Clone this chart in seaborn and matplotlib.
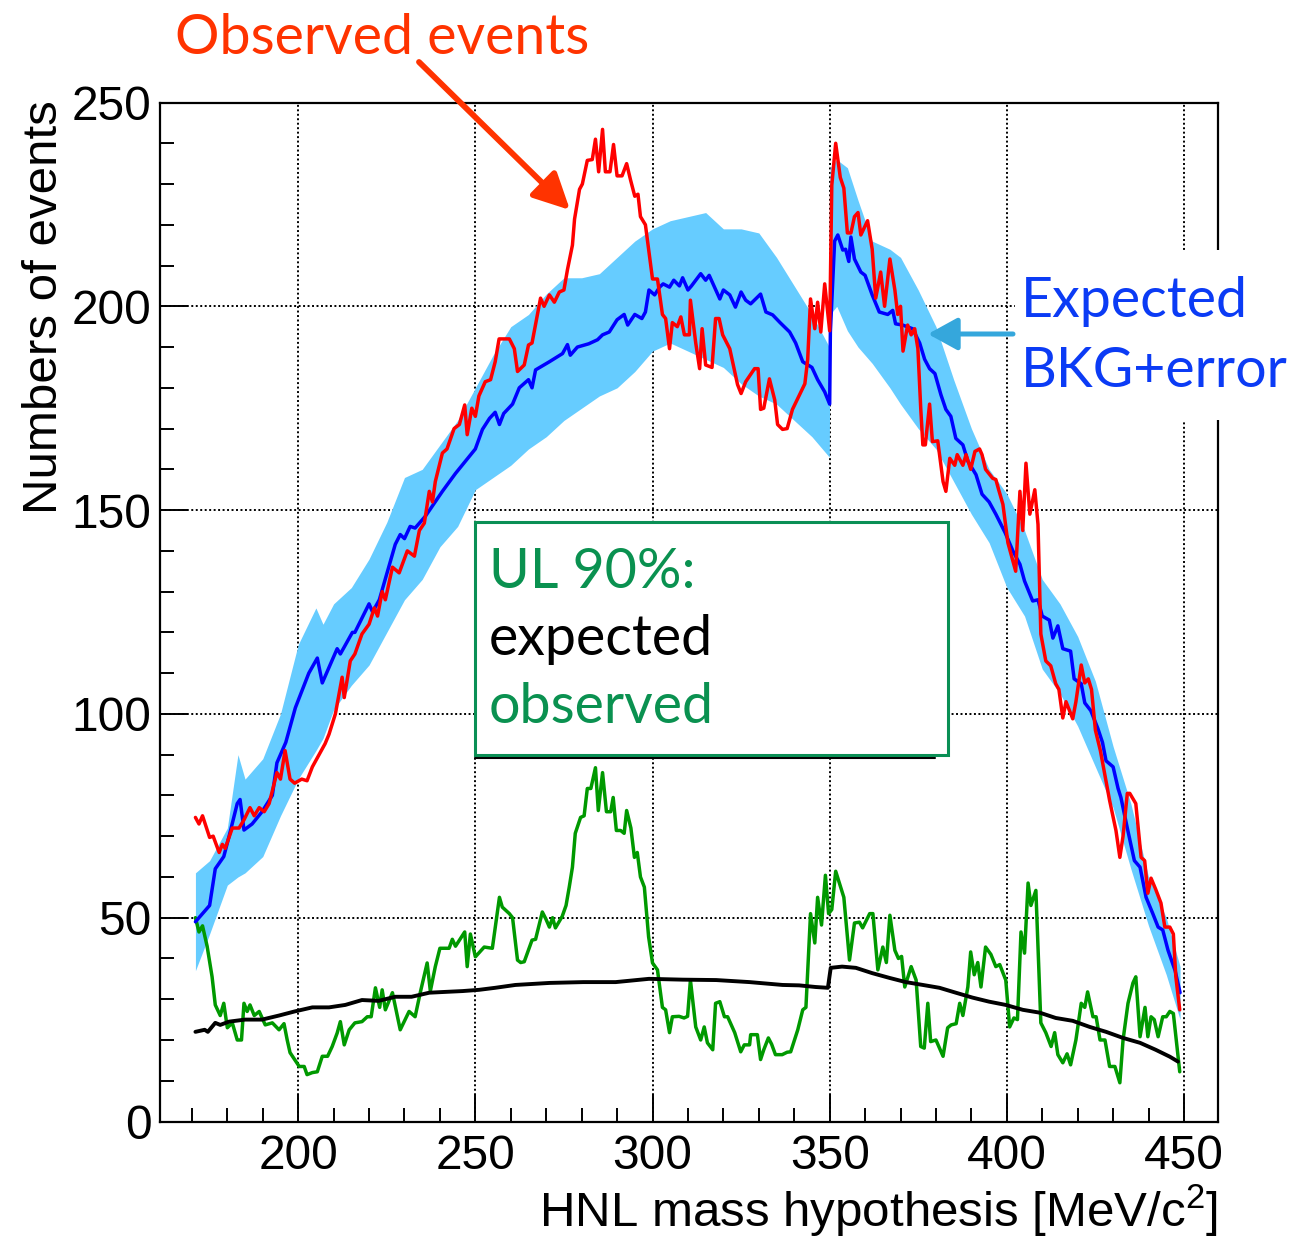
import numpy as np
import pandas as pd
import matplotlib
matplotlib.use('Agg')
import matplotlib.pyplot as plt
import seaborn as sns
from matplotlib.patches import Rectangle, FancyArrowPatch
from matplotlib.lines import Line2D
from matplotlib.ticker import MultipleLocator

# ---- data ----
# expected background (blue)
exp_mass = [171, 175, 176.6, 179, 180.5, 182.8, 183.6, 184.7, 187, 189.8, 192.7, 194, 196.5, 199.2, 203, 205.4, 206.8,
            211, 211.9, 215.3, 216, 220, 221, 222.9, 227.4, 228.8, 230, 231.6, 233, 235.9, 240.7, 244.4, 250, 252, 254,
            255.6, 256.8, 258, 260.5, 262.4, 265, 266, 267, 270.9, 274.6, 276, 276.8, 278.8, 282, 284.5, 285.9, 287.8,
            290, 292, 293, 295, 297, 298, 299, 300.6, 302, 303, 304.8, 306, 307.6, 308.5, 310, 311, 313.6, 315, 316,
            319, 320, 321.8, 323.4, 325, 326.3, 327.7, 330.5, 332, 333.9, 336, 338.7, 340.4, 342.4, 345, 346.6, 348.6,
            350, 350.2, 351.4, 352.3, 353.7, 354.5, 355.4, 356, 357, 358.8, 360, 362, 364, 366.4, 367.8, 368.6, 370.6,
            373.4, 375.4, 376.8, 378.2, 379.7, 381.4, 382.8, 384.2, 385.6, 387.6, 389, 391.3, 393, 395, 396.9, 399.5,
            401.7, 403.7, 405, 407.3, 408.8, 410, 412, 413, 414.4, 415.8, 418, 419, 421, 422, 423.7, 425.7, 427, 428,
            430, 431.4, 432.2, 434, 436, 437.6, 439.3, 441.2, 442.7, 444, 445.5, 447.5, 448.9]
exp_events = [49, 53, 62, 65, 70, 78, 79, 71.5, 73, 76, 80, 88, 93, 101.5, 110, 113.7, 107.6,
              116, 114.7, 120, 120, 127, 125, 128, 141.6, 144, 143, 146, 145.6, 148.5, 154.6, 159, 165, 169.8, 172.5,
              174, 171, 173.7, 176, 180, 182, 180, 184.4, 186.4, 188.4, 190.6, 188, 190, 190.8, 191.8, 193, 193.7,
              196.7, 198, 195.4, 198, 197, 198.6, 204, 202.8, 204.7, 205.5, 204.7, 206.4, 205, 207, 204, 205, 208, 206.4, 207.6,
              201.8, 204, 202.8, 199.8, 203.5, 201.5, 200.6, 203, 198.6, 197.9, 196, 193.7, 191, 186.4, 185, 182, 179,
              176, 193.7, 216, 217.5, 213.8, 214, 211, 217, 211.6, 208.4, 207.6, 202.8, 198.6, 198, 199, 195.7, 195.4,
              194.5, 191, 187, 184.7, 183.5, 178.3, 174.7, 173, 167.6, 166, 162, 158.7, 153.9, 152, 149, 144.5,
              140, 136.7, 132.6, 127.7, 128, 124, 123, 118.6, 121.6, 116, 115.4, 108.6, 107.4, 102.7, 100.8, 96.4, 93, 88.5,
              87, 81.7, 79.5, 72, 64, 62.4, 55, 51, 47.7, 47, 42, 37, 31.6]

# error band around the expectation (light blue)
band_mass = [171, 175, 180, 183, 185, 190, 195, 200, 205, 207, 210, 215, 220, 225, 230, 235, 240, 245, 250, 255,
             260, 265, 270, 275, 280, 285, 290, 295, 300, 305, 310, 315, 320, 325, 330, 335, 340, 345, 349.9,
             350.1, 352, 355, 358, 362, 367, 370, 375, 380, 385, 390, 395, 400, 405, 410, 415, 420, 425, 430,
             435, 440, 445, 448.9]
band_lo = [37, 46, 58, 60, 61, 65, 75, 84, 91, 94, 101, 107, 112, 120, 128, 133, 141, 146, 155, 158,
           161, 165, 168, 172, 175, 178, 180, 184, 189, 191, 189, 187, 185, 181, 178, 176, 172, 168, 163,
           198, 200, 194, 190, 186, 180, 176, 170, 165, 157, 149, 142, 131, 124, 111, 105, 97, 87, 77,
           62, 48, 36, 25]
band_hi = [61, 64, 72, 90, 84, 89, 100, 117, 126, 122, 127, 131, 138, 147, 158, 160, 166, 172, 180, 188,
           195, 198, 203, 207, 207, 208, 212, 216, 219, 221, 222, 223, 219, 219, 218, 212, 205, 198, 190,
           234, 236, 234, 226, 216, 214, 212, 204, 195, 182, 170, 160, 154, 145, 133, 127, 119, 108, 92,
           78, 60, 50, 38]

# observed events (red)
obs_mass = [171, 172, 173, 175, 176, 177.7, 178.6, 179.4, 181.4, 183.3, 184.7, 186.4, 187.6, 189, 190.4, 191.8, 194,
            195, 196.3, 197.7, 199, 201, 202.5, 204, 207.6, 208.7, 210.5, 212.4, 213, 214.7, 216, 218, 220, 221.5,
            222.4, 223.7, 224.6, 226.6, 228.5, 230.8, 232.8, 234.2, 235.6, 237, 237.9, 238.7, 240.7, 242, 244, 245.5,
            247, 247.7, 249, 250, 251, 252.8, 254.3, 255.6, 256.7, 259.6, 261, 261.9, 263.8, 265, 266, 268.4, 269.4,
            270.9, 272.3, 273.7, 275, 276, 277.4, 278, 278.8, 279.4, 280.2, 281.6, 283, 283.9, 284.8, 285.9, 286.7,
            288, 289, 290, 291.4, 292.7, 293.8, 295, 295.9, 296.6, 298, 300, 301.4, 302.8, 303.7, 304.8, 305.6, 307,
            308, 309, 310.4, 310.7, 312.2, 313.3, 314, 315, 316.8, 317.8, 318.8, 319.8, 321.8, 324, 325, 326.3,
            328.8, 329.8, 330.5, 331.4, 333, 334.5, 335.3, 336.7, 338, 339.5, 341.5, 343, 343.8, 344.6, 345.8, 346.6,
            347.5, 348.6, 350, 350.6, 351.7, 353, 354, 355, 356, 357, 358, 358.8, 360.7, 362, 363, 364.4, 365.5, 367,
            368.4, 369.2, 370, 370.7, 372, 373, 374, 374.9, 375.7, 376.3, 377, 378.2, 379, 380.5, 382, 382.8, 383.9,
            385.3, 386, 387.6, 388.5, 389.8, 391, 392.3, 393, 394, 396, 396.9, 397.7, 398.9, 400.3, 401.7, 402.5,
            403.7, 404.5, 405.4, 406.5, 407.9, 408.8, 409.6, 411, 412.4, 413.8, 414.7, 415.8, 416.7, 417.6, 418.6,
            419.5, 421, 422, 423, 423.9, 425, 426.4, 429, 430.8, 431.9, 432.8, 434, 434.7, 436.4, 437.9, 438.9,
            439.8, 440.7, 442, 443.5, 444.6, 446, 447, 447.7, 448.8]
obs_events = [74.6, 73, 75, 69.7, 70, 66, 68, 67, 72, 72, 74, 77, 75, 77, 76, 78, 85.6,
              84, 91, 84, 83, 84, 83.6, 87, 92.7, 95, 100, 109, 104, 113, 114.7, 119.6, 122, 126,
              124, 130, 128, 136, 134.6, 140, 138.7, 145, 146.8, 154.6, 152, 157, 164, 165, 170, 171,
              175.8, 168.5, 175, 173, 178, 181.5, 182, 186.4, 192, 192, 189.6, 184, 185.6, 190.5, 191, 202, 200,
              202.8, 201, 203.5, 204, 209, 215, 221.4, 225.5, 228.7, 230, 235.8, 236, 241, 233, 243.4, 233,
              233, 239.7, 232, 232, 235, 231, 227, 227.5, 222, 220, 206.7, 206.7, 198, 197, 189.6, 196, 195,
              197.4, 193, 193, 201.5, 191, 184.7, 194.5, 185.6, 185, 197, 197, 193, 189.6, 180.8, 178.6, 181.5,
              184.7, 184.7, 174.7, 175, 182.2, 177, 171, 169.8, 170, 174.7, 178.3, 181, 187, 201.8, 194.5, 201,
              193.7, 205.5, 194, 229.7, 240, 231.6, 229, 218, 218, 222, 223, 217.5, 221, 214, 202, 208.4, 200, 211.6,
              204, 198, 200, 189, 195.4, 193, 194.5, 189.6, 175, 166, 166, 176, 166.8, 167, 157, 154.6, 162.7,
              161, 163.6, 161, 163.6, 160, 164.4, 165, 163.6, 160, 157.8, 157.5, 155, 151.4, 142, 137.5, 135,
              154.6, 145, 161.5, 149, 155, 146.5, 119.6, 113, 111.8, 107.4, 106, 99, 103, 101, 98.8,
              103, 112, 107.6, 108.6, 106, 96, 91, 78.8, 71.4, 64.8, 70, 80.5, 80.5, 78, 64.8, 64,
              56, 59.7, 57, 53.6, 47.7, 47.7, 46, 35.5, 27.4]

# UL 90% observed (green)
ul_obs_mass = [171, 172, 173, 174.3, 175.7, 176.6, 178, 179, 180, 181.4, 182.8, 184, 184.7, 185.6, 186.4, 187.6, 189,
               190.7, 192.7, 194.6, 196, 196.9, 197.7, 200.3, 201.7, 202.5, 204, 205.4, 206.8, 208.3, 209.6, 211,
               211.9, 213, 214.4, 216, 218, 219.5, 220.6, 221.8, 223, 223.7, 224.6, 226.6, 228.8, 231.3, 233, 234.5,
               236.4, 237.3, 238.7, 240, 242.6, 243.5, 244.4, 247, 247.7, 248.6, 250, 252.5, 254.8, 256.8, 257.6,
               259.6, 260.5, 261.9, 262.8, 263.8, 266, 267, 268.9, 269.9, 270.9, 271.8, 272.6, 274.5, 275.6, 276.5,
               277.4, 278.2, 279.7, 280.7, 281.6, 282.6, 283.9, 284.7, 285.9, 287, 288.2, 288.9, 289.8, 291, 292,
               292.7, 293.9, 294.9, 295.7, 296.6, 297.7, 298.9, 300, 301.4, 302.8, 303.7, 304.8, 305.6, 307.5, 308.9,
               309.9, 310.7, 312.2, 313.6, 314.6, 315.5, 317, 317.8, 319, 320.3, 321.2, 323.2, 324.9, 325.9, 327.4,
               327.7, 329.6, 330.5, 331.4, 332.7, 333.6, 334.7, 336.6, 338, 339, 341, 342.4, 343.3, 344.6, 345.8,
               346.6, 347.7, 348.8, 349.7, 350.6, 351.7, 354, 355.6, 357, 358.4, 359.3, 361.3, 362.2, 363.6, 365, 366,
               367, 368.4, 369.4, 370.3, 371.2, 373, 374.4, 375.7, 376.7, 377.7, 378.5, 380, 382, 383.3, 384.3,
               385.7, 386.7, 387.6, 389, 389.8, 390.8, 391.8, 392.7, 394, 395.5, 396.9, 398, 399.7, 400.8, 402, 403,
               404, 405, 406, 406.8, 408.2, 409.6, 411, 412.5, 413.5, 414.4, 415.8, 417, 418, 419.5, 421, 422, 422.8,
               424.3, 425.2, 426.3, 427.7, 429, 430.5, 431.9, 432.8, 434.2, 435.6, 436.4, 437.6, 439, 439.8, 440.7,
               441.6, 442.7, 444, 445, 446, 447, 448.8]
ul_obs = [50, 46.5, 48, 43, 35.5, 28.6, 26, 29, 23, 24.2, 20, 20, 29, 27, 28.6, 26, 27,
          23.7, 24.2, 22.5, 24, 20, 16.9, 13.5, 13.5, 11.5, 12, 12.2, 16, 16, 18.4, 21.7,
          24.5, 18.8, 22.5, 24.2, 24.5, 25.7, 25.7, 32.8, 28, 32.3, 27.4, 31.6, 22.5, 27, 25.7, 31.8,
          38.9, 32, 38, 42.5, 42.5, 44.7, 43, 46.5, 38, 46, 40.4, 42.8, 42.5, 55, 52.6,
          51, 50, 39.6, 39, 39.2, 44.5, 44.7, 51.4, 49.7, 47.7, 50, 47.5, 50.3, 53, 57.5,
          62.4, 70.7, 74.6, 75, 81.7, 81.7, 86.8, 76.3, 85.6, 76, 76, 79.5, 71.4, 71.4, 70.7,
          76.3, 72, 64.8, 66, 60, 57.5, 45.3, 38.9, 37.2, 28, 27.4, 21.8, 25.7, 25.8, 25.4,
          25.8, 34.7, 23.2, 20, 23.2, 19.3, 17.6, 29, 29.4, 25.7, 25.7, 21.8, 17.1, 18.8, 18.8,
          21.3, 21.3, 15.2, 17.6, 20.5, 19, 16.4, 16.4, 17, 17.1, 22.5, 27.4, 28, 51, 43.8,
          55, 48.2, 60.4, 51, 52, 61.4, 55, 39.6, 48.7, 48.9, 47.5, 51, 51, 37.2, 42.8, 39,
          50.6, 42, 40, 40.5, 33, 38, 34.7, 18.4, 18, 29, 19.6, 20, 16, 23, 23.7,
          24, 29, 26, 33, 41.6, 36, 39, 33, 42.8, 41, 38, 38.5, 34.7, 23.2, 25.4, 25,
          46.5, 41.3, 58.5, 53, 56.7, 24.2, 21.8, 18.4, 21.8, 16.4, 14.4, 16.6, 13.9, 20, 29, 28, 31.8,
          25.7, 25.7, 20, 20, 13.5, 13.5, 9.5, 20, 29, 34, 35.5, 20.8, 28, 20.8, 25.7,
          25, 20.8, 25.7, 25.7, 27, 26.5, 12.2]

# UL 90% expected (black)
ul_exp_mass = [171, 173.6, 174.5, 176.6, 178, 180.5, 185, 189.8, 194.6, 199, 204, 208.7, 213.3, 218, 222.7, 227.4,
               232, 237, 241.6, 246.4, 251, 255.6, 261.3, 271, 280.5, 289.6, 299, 308.5, 318, 327.4, 336.7, 341.4,
               346, 349.5, 350.3, 353.5, 357.4, 362, 367, 371.5, 376.3, 381, 385.6, 390.3, 395, 399.7, 404.5, 409.3,
               413.8, 418.6, 423.4, 428, 432.8, 437.6, 442, 446, 448.3]
ul_exp = [22, 22.5, 22, 24.2, 23.7, 24.5, 25, 25, 26, 27, 28, 28, 28.6, 29.8, 29.6, 30.6,
          30.6, 31.6, 31.8, 32, 32.3, 32.8, 33.5, 34, 34.2, 34.2, 35, 34.8, 34.7, 34.2, 33.5, 33.4,
          33, 32.8, 37.7, 38, 37.7, 36.4, 35.2, 34.2, 33.5, 32.8, 31.6, 30.4, 29.4, 28.6, 27.4, 26.7,
          25.4, 24.7, 23.2, 22, 20.5, 19.3, 17.6, 15.9, 14.7]

x_major = [200, 250, 300, 350, 400, 450]
y_major = [0, 50, 100, 150, 200, 250]

# ---- figure ----
sns.set_style('ticks')
plt.rcParams['font.family'] = ['Liberation Sans', 'DejaVu Sans']
plt.rcParams['text.color'] = 'black'
plt.rcParams['xtick.color'] = 'black'
plt.rcParams['ytick.color'] = 'black'
plt.rcParams['xtick.labelcolor'] = 'black'
plt.rcParams['ytick.labelcolor'] = 'black'
plt.rcParams['mathtext.fontset'] = 'custom'
plt.rcParams['mathtext.rm'] = 'Liberation Sans'
plt.rcParams['mathtext.it'] = 'Liberation Sans:italic'

W, H = 1293, 1237
fig = plt.figure(figsize=(W / 100, H / 100), dpi=100)
fx = lambda px: px / W
fy = lambda py: 1 - py / H
ax = fig.add_axes([fx(160), fy(1121.5), (1218 - 160) / W, (1121.5 - 102.5) / H])

ax.fill_between(band_mass, band_lo, band_hi, color='#66ccff', lw=0, zorder=2)
lines = [(ul_obs_mass, ul_obs, '#009900', 2.5),
         (ul_exp_mass, ul_exp, 'black', 2.8),
         (exp_mass, exp_events, '#0000ff', 2.5),
         (obs_mass, obs_events, '#ff0000', 2.5)]
for i, (mx, my, c, lw) in enumerate(lines):
    sns.lineplot(x=mx, y=my, ax=ax, color=c, linewidth=lw, sort=False, estimator=None, zorder=3 + i)

ax.set_xlim(161, 459.6)
ax.set_ylim(0, 250)
ax.set_xticks(x_major)
ax.set_yticks(y_major)
ax.xaxis.set_minor_locator(MultipleLocator(10))
ax.yaxis.set_minor_locator(MultipleLocator(10))
ax.tick_params(which='major', direction='in', length=20, width=1.4, color='black', labelsize=34.5,
               labelcolor='black')
ax.tick_params(which='minor', direction='in', length=10, width=1.4, color='black')
ax.tick_params(axis='x', which='major', pad=9)
ax.tick_params(axis='y', which='major', pad=6)
ax.tick_params(top=False, right=False, which='both')
ax.grid(True, which='major', color='black', linestyle=(0, (1, 1.3)), linewidth=1.4)
ax.set_axisbelow(True)
for s in ax.spines.values():
    s.set_linewidth(1.6)
    s.set_color('black')
ax.set_xlabel('')
ax.set_ylabel('')

fig.text(fx(45), fy(100), 'Numbers of events', rotation=90, ha='center', va='top', fontsize=35.5, color='black')
fig.text(fx(1218), fy(1227), r'HNL mass hypothesis [MeV/c$^{2}$]', ha='right', va='baseline', fontsize=35.5,
         color='black')

# annotations
fig.text(fx(175), fy(54), 'Observed events', color='#ff3300', fontsize=40, family='Lato',
         ha='left', va='baseline')
fig.add_artist(FancyArrowPatch((fx(419), fy(62)), (fx(570), fy(210)), transform=fig.transFigure,
                               arrowstyle='-|>,head_length=1.1,head_width=0.55', mutation_scale=20,
                               color='#ff3300', lw=4.2, shrinkA=0, shrinkB=0, zorder=5))

fig.add_artist(Rectangle((fx(1015), fy(420)), (W - 1015) / W, (420 - 250) / H, transform=fig.transFigure,
                         facecolor='white', edgecolor='none', zorder=2))
fig.text(fx(1021), fy(317), 'Expected', color='#0b3bf5', fontsize=40, family='Lato', ha='left', va='baseline', zorder=3)
fig.text(fx(1021), fy(387), 'BKG+error', color='#0b3bf5', fontsize=40, family='Lato', ha='left', va='baseline', zorder=3)
fig.add_artist(FancyArrowPatch((fx(1013), fy(334)), (fx(928), fy(334)), transform=fig.transFigure,
                               arrowstyle='-|>,head_length=1.0,head_width=0.55', mutation_scale=18,
                               color='#35a7dc', lw=3.6, shrinkA=0, shrinkB=0, zorder=5))

# UL box
fig.add_artist(Line2D([fx(475), fx(935)], [fy(758), fy(758)], transform=fig.transFigure, color='black', lw=1.5, zorder=2))
fig.add_artist(Rectangle((fx(475), fy(755)), (948 - 475) / W, (755 - 522) / H, transform=fig.transFigure,
                         facecolor='white', edgecolor='#0a8f55', lw=2.2, zorder=2.5))
fig.text(fx(489), fy(588), 'UL 90%:', color='#0a9150', fontsize=40, family='Lato', ha='left', va='baseline', zorder=3)
fig.text(fx(489), fy(655), 'expected', color='black', fontsize=40, family='Lato', ha='left', va='baseline', zorder=3)
fig.text(fx(489), fy(723), 'observed', color='#0a9150', fontsize=40, family='Lato', ha='left', va='baseline', zorder=3)

fig.savefig('out.png', dpi=100)
